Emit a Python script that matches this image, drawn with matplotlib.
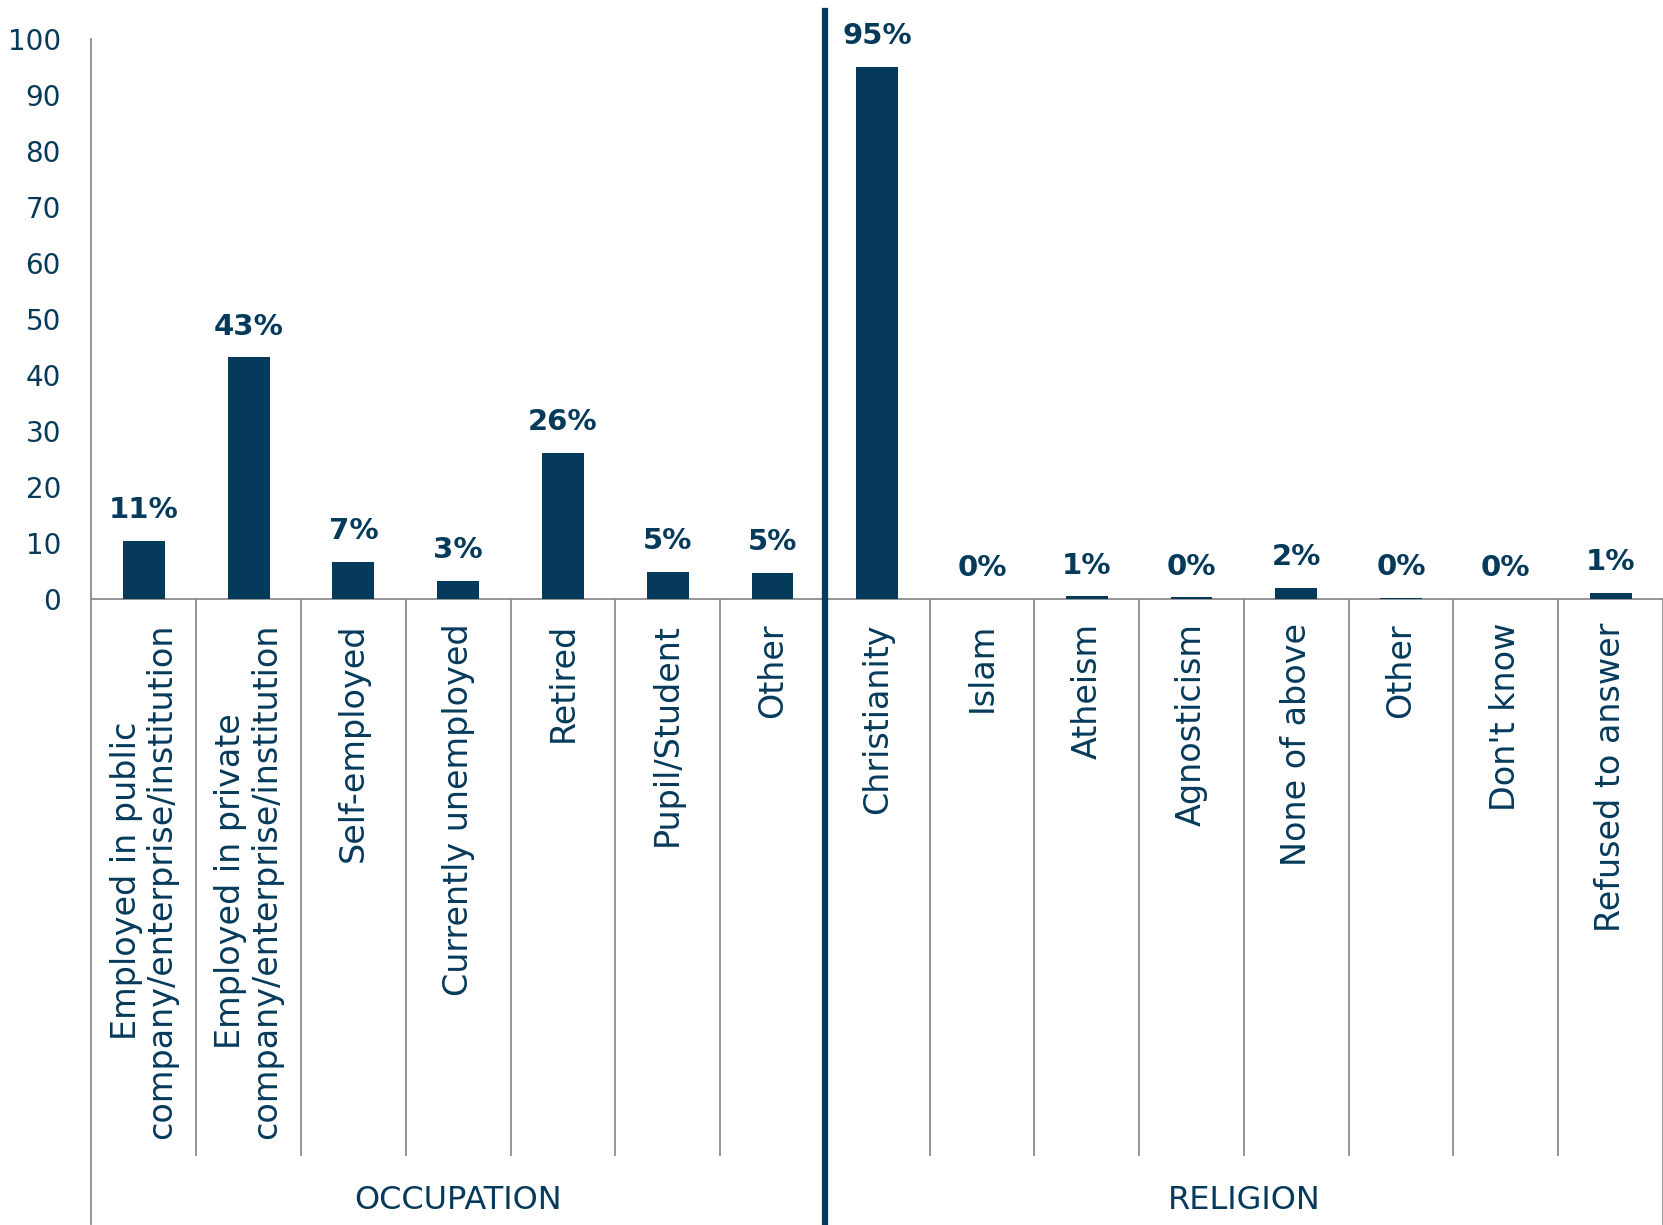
import numpy as np
import matplotlib.pyplot as plt
import matplotlib.transforms as mtransforms

# data
occupation = ['Employed in public\ncompany/enterprise/institution',
              'Employed in private\ncompany/enterprise/institution',
              'Self-employed', 'Currently unemployed', 'Retired',
              'Pupil/Student', 'Other']
occupation_vals = [10.4, 43.2, 6.6, 3.2, 26.1, 4.9, 4.7]
occupation_lbls = ['11%', '43%', '7%', '3%', '26%', '5%', '5%']

religion = ['Christianity', 'Islam', 'Atheism', 'Agnosticism', 'None of above',
            'Other', "Don't know", 'Refused to answer']
religion_vals = [95.1, 0.0, 0.5, 0.3, 2.0, 0.2, 0.0, 1.1]
religion_lbls = ['95%', '0%', '1%', '0%', '2%', '0%', '0%', '1%']

groups = ['OCCUPATION', 'RELIGION']
yticks = [0, 10, 20, 30, 40, 50, 60, 70, 80, 90, 100]

navy = '#053a5b'
grey = '#8c8c8c'
plt.rcParams['font.family'] = 'DejaVu Sans'

cats = occupation + religion
vals = occupation_vals + religion_vals
lbls = occupation_lbls + religion_lbls
x = np.arange(len(cats))

fig = plt.figure(figsize=(16.63, 12.25), dpi=100)
ax = fig.add_axes([0.055, 0.511, 0.945, 0.457])

bars = ax.bar(x, vals, width=0.4, color=navy, zorder=3)
for b, t in zip(bars, lbls):
    ax.annotate(t, (b.get_x() + b.get_width() / 2, b.get_height()),
                xytext=(0, 12), textcoords='offset points', ha='center', va='bottom',
                fontsize=21, fontweight='bold', color=navy)

ax.set_xlim(-0.5, len(cats) - 0.5)
ax.set_ylim(0, 100)
ax.set_yticks(yticks)
ax.tick_params(axis='y', length=0, labelsize=20, labelcolor=navy, pad=22)
ax.set_xticks([])
for s in ['top', 'right']:
    ax.spines[s].set_visible(False)
ax.spines['left'].set_color(grey)
ax.spines['bottom'].set_color(grey)
ax.spines['left'].set_linewidth(1.3)
ax.spines['bottom'].set_linewidth(1.3)

trans = mtransforms.blended_transform_factory(ax.transData, ax.transAxes)

# category labels, rotated
for xi, c in zip(x, cats):
    ax.text(xi, -0.043, c, rotation=90, ha='center', va='top', fontsize=24,
            color=navy, transform=trans, linespacing=1.1)

# separators between categories
n_occ = len(occupation)
for i in range(len(cats) + 1):
    xb = i - 0.5
    if i == 0 or i == len(cats):
        ax.plot([xb, xb], [0, -1.117], color=grey, lw=1.3, transform=trans, clip_on=False)
    elif i == n_occ:
        ax.plot([xb, xb], [1.05, -1.117], color=navy, lw=4.5, transform=trans,
                clip_on=False, zorder=5)
    else:
        ax.plot([xb, xb], [0, -0.994], color=grey, lw=1.3, transform=trans, clip_on=False)

# group labels
ax.text((n_occ - 1) / 2, -1.075, groups[0], ha='center', va='center', fontsize=23,
        color=navy, transform=trans)
ax.text(n_occ + (len(religion) - 1) / 2, -1.075, groups[1], ha='center', va='center',
        fontsize=23, color=navy, transform=trans)

fig.savefig('out.png', dpi=100)
